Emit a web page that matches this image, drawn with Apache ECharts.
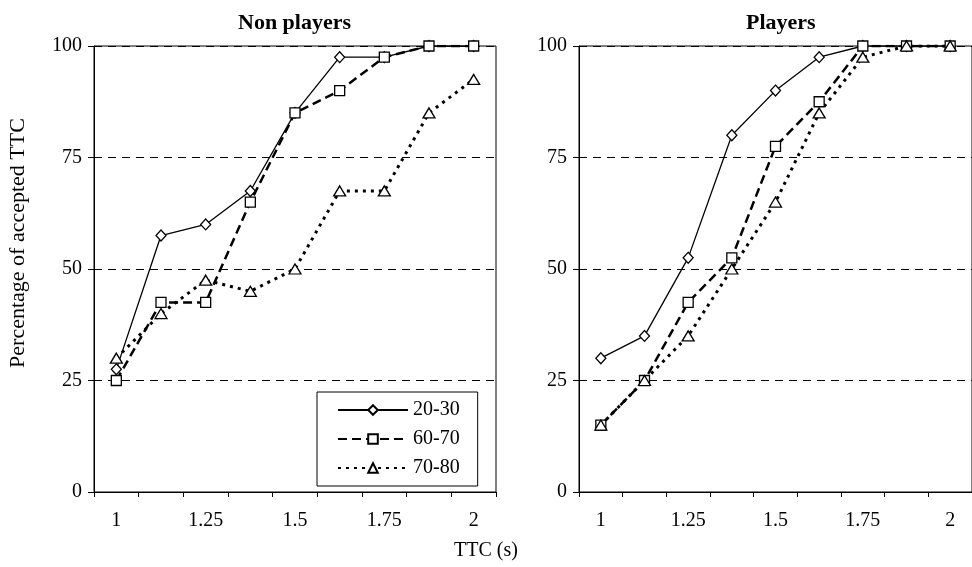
<!DOCTYPE html>
<html>
<head>
<meta charset="utf-8">
<script src="https://cdn.jsdelivr.net/npm/echarts@6/dist/echarts.min.js"></script>
<style>
  html, body { margin: 0; padding: 0; background: #fff; }
  #chart { width: 972px; height: 567px; }
</style>
</head>
<body>
<div id="chart"></div>
<script>
// TTC categories (s); only every other one gets a label
var ttc = ['1', '1.125', '1.25', '1.375', '1.5', '1.625', '1.75', '1.875', '2'];
var yTicks = [0, 25, 50, 75, 100];
var groups = ['20-30', '60-70', '70-80'];

// Non players
var non2030 = [27.5, 57.5, 60, 67.5, 85, 97.5, 97.5, 100, 100];
var non6070 = [25, 42.5, 42.5, 65, 85, 90, 97.5, 100, 100];
var non7080 = [30, 40, 47.5, 45, 50, 67.5, 67.5, 85, 92.5];

// Players
var pl2030 = [30, 35, 52.5, 80, 90, 97.5, 100, 100, 100];
var pl6070 = [15, 25, 42.5, 52.5, 77.5, 87.5, 100, 100, 100];
var pl7080 = [15, 25, 35, 50, 65, 85, 97.5, 100, 100];

var FONT = 'Liberation Serif';

var styles = {
  '20-30': { symbol: 'diamond', symbolSize: [10, 11], line: { width: 1.3, type: 'solid' } },
  '60-70': { symbol: 'rect', symbolSize: 10, line: { width: 2.5, type: [9, 5] } },
  '70-80': { symbol: 'triangle', symbolSize: [12, 10], line: { width: 3, type: [3, 5] } }
};

function mkSeries(name, data, idx) {
  var s = styles[name];
  return {
    name: name,
    type: 'line',
    xAxisIndex: idx,
    yAxisIndex: idx,
    data: data,
    symbol: s.symbol,
    symbolSize: s.symbolSize,
    showAllSymbol: true,
    lineStyle: { color: '#000', width: s.line.width, type: s.line.type },
    itemStyle: { color: '#fff', borderColor: '#000', borderWidth: 1.3 },
    emphasis: { disabled: true },
    animation: false
  };
}

function mkX(idx) {
  return {
    type: 'category',
    gridIndex: idx,
    data: ttc,
    boundaryGap: true,
    axisLine: { lineStyle: { color: '#000', width: 1 } },
    axisTick: { show: true, interval: 0, alignWithLabel: false, length: 5, lineStyle: { color: '#000' } },
    axisLabel: { interval: 1, color: '#000', fontSize: 20, fontFamily: FONT, margin: 19 }
  };
}

function mkY(idx) {
  return {
    type: 'value',
    gridIndex: idx,
    min: 0,
    max: 100,
    interval: 25,
    axisLine: { show: true, lineStyle: { color: '#000', width: 1 } },
    axisTick: { show: true, length: 6, lineStyle: { color: '#000' } },
    axisLabel: {
      color: '#000', fontSize: 20, fontFamily: FONT, margin: 12,
      formatter: function (v) { return yTicks.indexOf(v) >= 0 ? String(v) : ''; }
    },
    splitLine: { show: true, lineStyle: { color: '#000', width: 1, type: [8, 6] } }
  };
}

var chart = echarts.init(document.getElementById('chart'));
chart.setOption({
  backgroundColor: '#fff',
  animation: false,
  textStyle: { fontFamily: FONT, color: '#000' },
  title: [
    { text: 'Non players', left: 233, top: 7, textStyle: { fontFamily: FONT, fontSize: 22, fontWeight: 'bold', color: '#000' } },
    { text: 'Players', left: 741, top: 7, textStyle: { fontFamily: FONT, fontSize: 22, fontWeight: 'bold', color: '#000' } }
  ],
  grid: [
    { left: 94, top: 46, width: 402, height: 446, show: true, borderColor: '#000', borderWidth: 1, backgroundColor: 'transparent' },
    { left: 579, top: 46, width: 402, height: 446, show: true, borderColor: '#000', borderWidth: 1, backgroundColor: 'transparent' }
  ],
  xAxis: [mkX(0), mkX(1)],
  yAxis: [mkY(0), mkY(1)],
  legend: {
    data: groups,
    orient: 'vertical',
    left: 317,
    top: 392,
    padding: [8, 18, 8, 20],
    itemGap: 9,
    itemWidth: 70,
    itemHeight: 12,
    borderColor: '#000',
    borderWidth: 1,
    backgroundColor: '#fff',
    selectedMode: false,
    textStyle: { fontFamily: FONT, fontSize: 20, color: '#000', padding: [0, 0, 0, 0] }
  },
  graphic: [
    {
      type: 'text',
      x: 18, y: 243,
      rotation: Math.PI / 2,
      style: { text: 'Percentage of accepted TTC', font: '22px "Liberation Serif"', fill: '#000', align: 'center', verticalAlign: 'middle' }
    },
    {
      type: 'text',
      x: 486, y: 551,
      style: { text: 'TTC (s)', font: '20px "Liberation Serif"', fill: '#000', align: 'center', verticalAlign: 'middle' }
    }
  ],
  series: [
    mkSeries('20-30', non2030, 0),
    mkSeries('60-70', non6070, 0),
    mkSeries('70-80', non7080, 0),
    mkSeries('20-30', pl2030, 1),
    mkSeries('60-70', pl6070, 1),
    mkSeries('70-80', pl7080, 1)
  ]
});
</script>
</body>
</html>
